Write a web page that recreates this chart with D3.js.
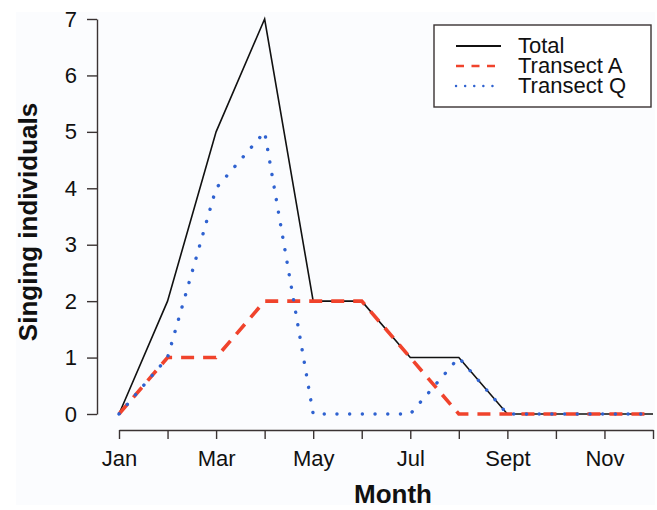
<!DOCTYPE html>
<html>
<head>
<meta charset="utf-8">
<script src="https://cdn.jsdelivr.net/npm/d3@7"></script>
<style>
  body { margin: 0; background: #fff; }
  text { font-family: "Liberation Sans", Arial, sans-serif; fill: #111; }
</style>
</head>
<body>
<div id="chart"></div>
<script>
// Data
let months = ['Jan', 'Feb', 'Mar', 'Apr', 'May', 'Jun', 'Jul', 'Aug', 'Sept', 'Oct', 'Nov', 'Dec'];
let monthLabels = ['Jan', '', 'Mar', '', 'May', '', 'Jul', '', 'Sept', '', 'Nov', ''];
let total = [0, 2, 5, 7, 2, 2, 1, 1, 0, 0, 0, 0];
let transectA = [0, 1, 1, 2, 2, 2, 1, 0, 0, 0, 0, 0];
let transectQ = [0, 1, 4, 5, 0, 0, 0, 1, 0, 0, 0, 0];
let yTicks = [0, 1, 2, 3, 4, 5, 6, 7];

let width = 657;
let height = 510;

let svg = d3.select('#chart').append('svg').attr('width', width).attr('height', height);

// faint background panel
svg.append('rect')
  .attr('x', 16).attr('y', 12)
  .attr('width', 639).attr('height', 493)
  .style('fill', '#fbfcfe');

let x = d3.scaleLinear().domain([0, 11]).range([119, 653]);
let y = d3.scaleLinear().domain([0, 7]).range([414, 19]);

// Axes
let yAxis = svg.append('g')
  .attr('transform', 'translate(97,0)')
  .call(d3.axisLeft(y).tickValues(yTicks).tickFormat(d3.format('d'))
    .tickSize(10).tickSizeOuter(0).tickPadding(10));

let xAxis = svg.append('g')
  .attr('transform', 'translate(0,430)')
  .call(d3.axisBottom(x).tickValues(d3.range(months.length))
    .tickFormat(function (d) { return monthLabels[d]; })
    .tickSize(9).tickSizeOuter(0).tickPadding(11));

[yAxis, xAxis].forEach(function (g) {
  g.selectAll('path, line').style('stroke', '#3a3333').style('stroke-width', 1.4);
  g.selectAll('text').style('font-size', '22px').style('fill', '#111')
    .style('font-family', '"Liberation Sans", Arial, sans-serif');
});

// Lines
let line = d3.line()
  .x(function (d, i) { return x(i); })
  .y(function (d) { return y(d); });

svg.append('path').datum(total).attr('d', line)
  .style('fill', 'none').style('stroke', '#111').style('stroke-width', 1.6);

svg.append('path').datum(transectA).attr('d', line)
  .style('fill', 'none').style('stroke', '#f0432c').style('stroke-width', 3.6)
  .style('stroke-dasharray', '13,9');

svg.append('path').datum(transectQ).attr('d', line)
  .style('fill', 'none').style('stroke', '#2f62d0').style('stroke-width', 3.4)
  .style('stroke-linecap', 'round').style('stroke-dasharray', '0.1,12.6');

// Axis titles
svg.append('text')
  .attr('transform', 'translate(37,222) rotate(-90)')
  .attr('text-anchor', 'middle')
  .style('font-size', '26px').style('font-weight', 'bold')
  .text('Singing individuals');

svg.append('text')
  .attr('x', 393).attr('y', 503)
  .attr('text-anchor', 'middle')
  .style('font-size', '26px').style('font-weight', 'bold')
  .text('Month');

// Legend
let legend = svg.append('g');
legend.append('rect')
  .attr('x', 434).attr('y', 25).attr('width', 217).attr('height', 82)
  .style('fill', '#fff').style('stroke', '#3a3333').style('stroke-width', 1.4);

let legendItems = [
  { name: 'Total', color: '#111', w: 2, dash: null, cap: 'butt' },
  { name: 'Transect A', color: '#f0432c', w: 2.6, dash: '8,7.5', cap: 'butt' },
  { name: 'Transect Q', color: '#2f62d0', w: 2.4, dash: '0.1,9', cap: 'round' }
];

legendItems.forEach(function (d, i) {
  let ly = 46 + i * 20;
  legend.append('line')
    .attr('x1', 456).attr('x2', 501).attr('y1', ly).attr('y2', ly)
    .style('stroke', d.color).style('stroke-width', d.w)
    .style('stroke-dasharray', d.dash).style('stroke-linecap', d.cap);
  legend.append('text')
    .attr('x', 518).attr('y', ly + 7)
    .style('font-size', '22px')
    .text(d.name);
});
</script>
</body>
</html>
